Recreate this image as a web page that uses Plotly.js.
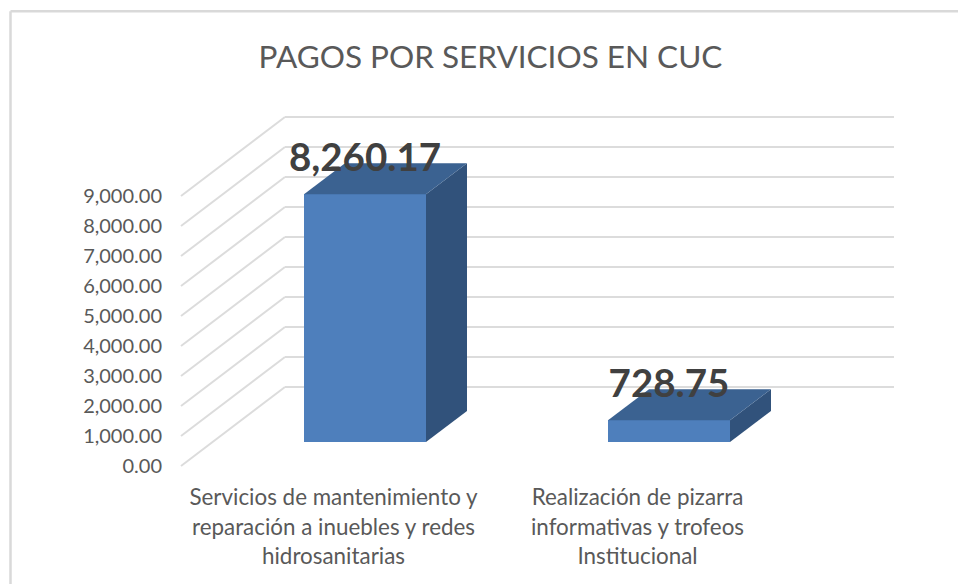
<!DOCTYPE html>
<html><head><meta charset="utf-8">
<script src="https://cdn.plot.ly/plotly-3.0.1.min.js"></script>
<style>html,body{margin:0;padding:0;background:#fff}#c{width:958px;height:584px}</style>
</head><body><div id="c"></div>
<script>
const titleText = "PAGOS POR SERVICIOS EN CUC";
const categories = ["Servicios de mantenimiento y<br>reparación a inuebles y redes<br>hidrosanitarias",
                    "Realización de pizarra<br>informativas y trofeos<br>Institucional"];
const values = [8260.17, 728.75];
const axisTicks = [0,1000,2000,3000,4000,5000,6000,7000,8000,9000];
const font = "Lato, 'Open Sans', sans-serif";

// drawing frame (pixels) and oblique projection of the 3-D look
const W=958,H=584,L=170,R=894,T=100,B=470;
const pxPerValue=0.03, pxPerCat=304;
const barWidth=122/pxPerCat;
const depthX=41/pxPerCat, depthV=31/pxPerValue;          // bar depth
const floorX=104/pxPerCat, floorV=79/pxPerValue;         // wall-to-front depth
const yRange=z=>[(z-B)/pxPerValue,(z-T)/pxPerValue];
const xRange=(c,l,r)=>[(l-c)/pxPerCat,(r-c)/pxPerCat];
const idx=values.map((_,i)=>i);

const traces=[];
// diagonal floor/side-wall lines
const dx=[],dy=[];
const x0=xRange(333.5,L,R)[0]+(181-L)/pxPerCat;
axisTicks.forEach(v=>{dx.push(x0,x0+floorX,null);dy.push(v,v+floorV,null);});
traces.push({type:'scatter',mode:'lines',x:dx,y:dy,xaxis:'x2',yaxis:'y2',line:{color:'#dcdcdc',width:2},hoverinfo:'skip',showlegend:false});
// an invisible point set so the wall subplot exists
traces.unshift({type:'scatter',mode:'markers',x:[0],y:[0],xaxis:'x',yaxis:'y',marker:{opacity:0},hoverinfo:'skip',showlegend:false});
// side and top faces
const face=(xs,ys,color)=>({type:'scatter',mode:'lines',x:xs,y:ys,xaxis:'x3',yaxis:'y3',fill:'toself',fillcolor:color,line:{width:0,color:color},hoverinfo:'skip',showlegend:false});
values.forEach((v,i)=>{
  const l=i-barWidth/2,r=i+barWidth/2;
  traces.push(face([r,r+depthX,r+depthX,r,r],[0,depthV,v+depthV,v,0],'#31527b'));
  traces.push(face([l,r,r+depthX,l+depthX,l],[v,v,v+depthV,v+depthV,v],'#3b6291'));
});
// front faces
traces.push({type:'bar',x:idx,y:values,width:barWidth,xaxis:'x3',yaxis:'y3',marker:{color:'#4e7fbc',line:{width:0}},showlegend:false});
// value labels
traces.push({type:'scatter',mode:'text',x:idx,y:values.map(v=>v+1105),xaxis:'x3',yaxis:'y3',
  text:values.map(v=>v.toLocaleString('en-US',{minimumFractionDigits:2,maximumFractionDigits:2})),
  textposition:'middle center',cliponaxis:false,textfont:{family:font,size:38.5,color:'#404040',weight:700},hoverinfo:'skip',showlegend:false});

const hidden={visible:false,fixedrange:true};
const layout={
  width:W,height:H,margin:{l:L,r:W-R,t:T,b:H-B,pad:0},
  paper_bgcolor:'#fff',plot_bgcolor:'rgba(0,0,0,0)',showlegend:false,bargap:0,
  title:{text:titleText,xref:'container',yref:'container',x:490.5/W,y:1-57/H,xanchor:'center',yanchor:'middle',font:{family:font,size:31.5,color:'#595959'}},
  // back wall
  xaxis:{...hidden,domain:[(285-L)/(R-L),1],range:[0,1],anchor:'y'},
  yaxis:{range:yRange(387),anchor:'x',tickmode:'array',tickvals:axisTicks,showticklabels:false,ticks:'',showgrid:true,gridcolor:'#dcdcdc',gridwidth:2,zeroline:false,showline:false,fixedrange:true},
  // front plane: carries the tick labels
  xaxis2:{domain:[0,1],range:xRange(333.5,L,R),anchor:'y2',tickmode:'array',tickvals:idx,ticktext:categories,ticks:'',showgrid:false,zeroline:false,showline:false,tickangle:0,automargin:false,ticklabelstandoff:12,
    tickfont:{family:font,size:22.4,color:'#595959'},fixedrange:true},
  yaxis2:{range:yRange(466),anchor:'x2',tickmode:'array',tickvals:axisTicks,tickformat:',.2f',ticks:'',showgrid:false,zeroline:false,showline:false,automargin:false,ticklabelstandoff:7,
    tickfont:{family:font,size:20,color:'#595959'},fixedrange:true},
  // bars
  xaxis3:{...hidden,domain:[0,1],range:xRange(365,L,R),anchor:'y3'},
  yaxis3:{...hidden,range:yRange(442),anchor:'x3'},
  shapes:[
    {type:'line',xref:'paper',yref:'paper',x0:(10.5-L)/(R-L),x1:(10.5-L)/(R-L),y0:(B-H)/(B-T),y1:(B-11.3)/(B-T),line:{color:'#d9d9d9',width:2.5}},
    {type:'line',xref:'paper',yref:'paper',x0:(10.5-L)/(R-L),x1:(W-L)/(R-L),y0:(B-11.3)/(B-T),y1:(B-11.3)/(B-T),line:{color:'#d9d9d9',width:2.5}}
  ]
};
Plotly.newPlot('c',traces,layout,{displayModeBar:false,staticPlot:true});
</script></body></html>
